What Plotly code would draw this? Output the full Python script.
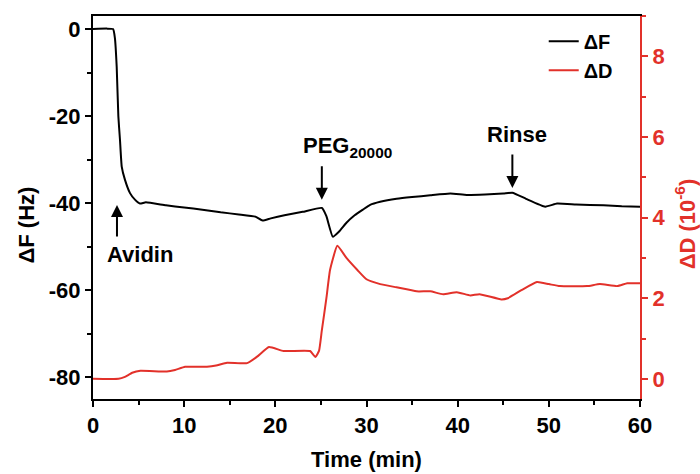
import plotly.graph_objects as go

# ---- data ----
time_F = [0, 1.5, 2.2, 2.4, 2.6, 2.78, 2.96, 3.15, 3.5, 4.06, 4.6, 5.15, 5.8,
          8, 10, 12, 14, 16, 17.8, 18.6, 19.5, 21, 23, 25.1, 25.6, 26.3, 27.0,
          27.8, 28.7, 29.6, 30.4, 31.5, 33.3, 35, 37, 39.2, 41, 43, 45, 46,
          47.5, 49.6, 50.9, 53, 56, 58, 60]
delta_F = [0, 0.1, 0, -2, -8.7, -20, -25.5, -31.6, -34.6, -37.7, -39.2, -40.1, -39.8,
           -40.5, -41.0, -41.5, -42.1, -42.6, -43.1, -44.0, -43.5, -42.8, -42.0, -41.1, -43.0, -47.7, -46.5,
           -44.5, -42.8, -41.5, -40.4, -39.7, -39.0, -38.6, -38.2, -37.8, -38.1, -38.0, -37.8, -37.6,
           -39.0, -40.8, -40.1, -40.3, -40.5, -40.7, -40.8]

time_D = [0, 2.8, 3.5, 4.3, 5.2, 8.1, 9, 10.1, 12.5, 13.5, 14.7, 16.9, 18, 19.3, 20.9,
          23.8, 24.4, 24.8, 25.1, 25.6, 26, 26.8, 27.8, 29, 30, 31.5, 33.3, 35.5, 37,
          38.4, 39.9, 41.4, 42.4, 44.8, 45.5, 47, 48.7, 50, 51.2, 54.2, 55.6, 57.5, 58.6, 60]
delta_D = [0, 0, 0.05, 0.15, 0.2, 0.18, 0.22, 0.3, 0.3, 0.33, 0.4, 0.39, 0.55, 0.79, 0.69,
           0.69, 0.54, 0.7, 1.2, 2.0, 2.7, 3.3, 3.0, 2.7, 2.47, 2.35, 2.27, 2.17, 2.17,
           2.1, 2.15, 2.07, 2.1, 1.97, 2.0, 2.2, 2.4, 2.35, 2.3, 2.3, 2.35, 2.3, 2.37, 2.37]

x_ticks = [0, 10, 20, 30, 40, 50, 60]
x_ticklabels = ["0", "10", "20", "30", "40", "50", "60"]
yF_ticks = [0, -20, -40, -60, -80]
yF_ticklabels = ["0", "-20", "-40", "-60", "-80"]
yD_ticks = [0, 2, 4, 6, 8]
yD_ticklabels = ["0", "2", "4", "6", "8"]

x_title = "Time (min)"
yF_title = "\u0394F (Hz)"
yD_title = "\u0394D (10<sup>-6</sup>)"

# annotation events: label, time and signal at the arrow tip
event_labels = ["Avidin", "PEG<sub>20000</sub>", "Rinse"]
event_times = [2.63, 25.1, 46.0]
event_values = [-40.4, -39.2, -36.5]

RED = "#e2312a"
FONT = "Liberation Sans, Arial, sans-serif"


def bold(labels):
    return ["<b>%s</b>" % s for s in labels]


fig = go.Figure()
fig.add_trace(go.Scatter(x=time_F, y=delta_F, name="<b>\u0394F</b>", mode="lines",
                         line=dict(color="black", width=2, shape="spline", smoothing=0.4), yaxis="y"))
fig.add_trace(go.Scatter(x=time_D, y=delta_D, name="<b>\u0394D</b>", mode="lines",
                         line=dict(color=RED, width=2, shape="spline", smoothing=0.4), yaxis="y2"))

axis_font = dict(family=FONT, size=22, color="black")
red_font = dict(family=FONT, size=22, color=RED)

fig.update_layout(
    width=700, height=474,
    margin=dict(l=93, r=60, t=16, b=75, autoexpand=False),
    plot_bgcolor="white", paper_bgcolor="white",
    font=dict(family=FONT, color="black"),
    showlegend=True,
    legend=dict(x=0.824, y=0.985, xanchor="left", yanchor="top",
                bgcolor="rgba(0,0,0,0)", font=dict(family=FONT, size=20),
                tracegroupgap=0),
    xaxis=dict(range=[0, 60], tickvals=x_ticks, ticktext=bold(x_ticklabels),
               showline=True, linecolor="black", linewidth=2,
               mirror=True, ticks="outside", ticklen=6, tickwidth=2, tickcolor="black",
               minor=dict(ticks="outside", dtick=5, ticklen=4, tickwidth=2, tickcolor="black"),
               showgrid=False, zeroline=False, tickfont=axis_font, automargin=False,
               title=dict(text="<b>%s</b>" % x_title, font=axis_font, standoff=14)),
    yaxis=dict(range=[-85, 3], tickvals=yF_ticks, ticktext=bold(yF_ticklabels),
               showline=True, linecolor="black", linewidth=2,
               ticks="outside", ticklen=6, tickwidth=2, tickcolor="black",
               minor=dict(ticks="outside", dtick=10, ticklen=4, tickwidth=2, tickcolor="black"),
               showgrid=False, zeroline=False, tickfont=axis_font, automargin=False),
    yaxis2=dict(range=[-0.5, 9], tickvals=yD_ticks, ticktext=bold(yD_ticklabels),
                overlaying="y", side="right",
                showline=True, linecolor=RED, linewidth=2,
                ticks="outside", ticklen=6, tickwidth=2, tickcolor=RED,
                minor=dict(ticks="outside", dtick=1, ticklen=4, tickwidth=2, tickcolor=RED),
                showgrid=False, zeroline=False, automargin=False,
                tickfont=red_font),
)

# y-axis titles placed as rotated texts (sit slightly below the axis middle, as in the reference)
fig.add_annotation(x=-0.121, y=0.455, xref="paper", yref="paper", text="<b>%s</b>" % yF_title,
                   textangle=-90, showarrow=False, xanchor="center", yanchor="middle",
                   font=axis_font)
fig.add_annotation(x=1.083, y=0.457, xref="paper", yref="paper", text="<b>%s</b>" % yD_title,
                   textangle=-90, showarrow=False, xanchor="center", yanchor="middle",
                   font=red_font)

# arrows (pointing at the event) and their labels, offsets in pixels
arrow_ay = [33, -35, -35]
label_xshift = [23, 26, 5]
label_yshift = [-50, 53, 53]
for label, t, v, ay, xs, ys in zip(event_labels, event_times, event_values,
                                   arrow_ay, label_xshift, label_yshift):
    fig.add_annotation(x=t, y=v, xref="x", yref="y", text="", showarrow=True,
                       ax=0, ay=ay, arrowhead=2, arrowsize=1.2, arrowwidth=2,
                       arrowcolor="black")
    fig.add_annotation(x=t, y=v, xref="x", yref="y", text="<b>%s</b>" % label,
                       showarrow=False, xshift=xs, yshift=ys,
                       xanchor="center", yanchor="middle",
                       font=dict(family=FONT, size=22, color="black"))

fig.write_html("out.html", config={"displayModeBar": False},
               post_script="document.body.style.margin='0px';")
